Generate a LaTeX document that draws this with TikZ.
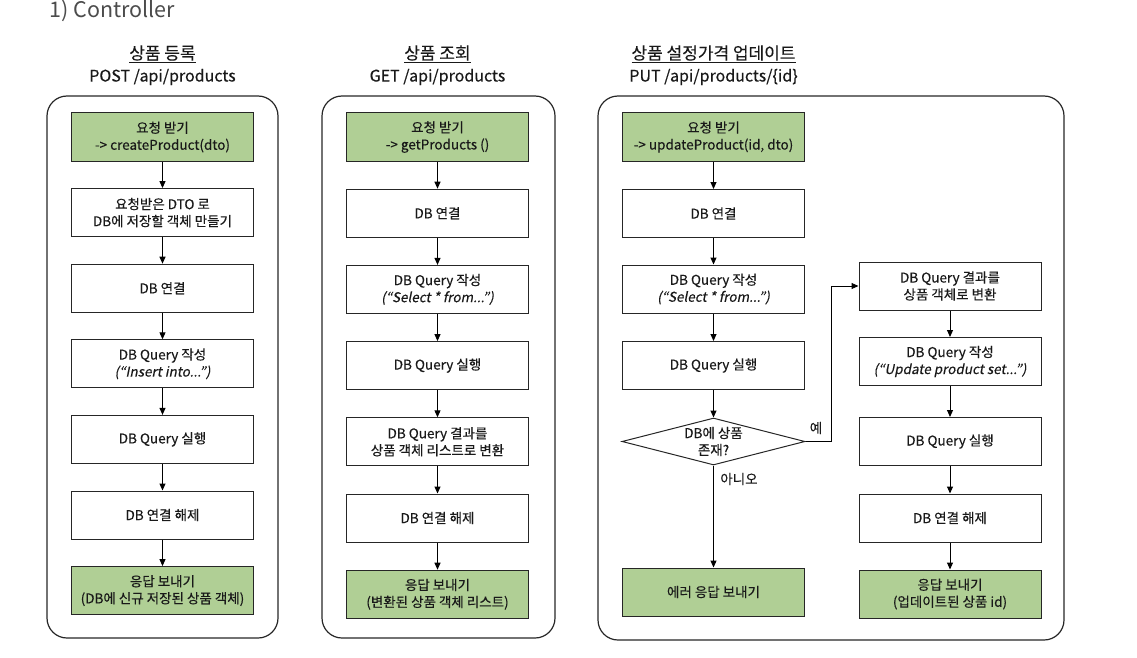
\documentclass[tikz,border=0pt]{standalone}
\usepackage{fontspec}
\newfontfamily\kr[FakeBold=0.3]{Noto Sans CJK KR}
\newfontfamily\krit[FakeSlant=0.2,FakeBold=0.3]{Noto Sans CJK KR}
\newfontfamily\krthin{Noto Sans CJK KR}
\usepackage{tikz}
\usetikzlibrary{arrows.meta,shapes.geometric}
\definecolor{ReqGreen}{HTML}{B0CF95}

\begin{document}
\begin{tikzpicture}[x=1pt,y=-1pt,line width=1pt,font=\kr\fontsize{13.5}{17}\selectfont,
 every node/.style={inner sep=1pt,text=black!90},>={Triangle[length=7pt,width=6pt]},
 stepbox/.style={draw=black!85,fill=white,minimum width=182pt,minimum height=48pt,align=center,inner sep=0pt},
 greenbox/.style={stepbox,fill=ReqGreen},
 frame/.style={draw=black!85,line width=1.2pt,rounded corners=20pt},
 ttl/.style={font=\kr\fontsize{17}{20}\selectfont},
 api/.style={font=\kr\fontsize{16}{19}\selectfont}]
\useasboundingbox (0,0) rectangle (1137,658);
\node[anchor=base west,inner sep=0pt,text=black!70,font=\krthin\fontsize{21.5}{24}\selectfont] (head) at (49,18) {1) Controller};

% 상품 등록
\draw[frame] (47,96) rectangle (278,638);
\begin{scope}[shift={(162.5,0)}]
 \node[ttl] (regT) at (0,54) {\underline{상품 등록}};
 \node[api] (regA) at (0,77) {POST /api/products};
 \node[greenbox] (reg1) at (0,137) {요청 받기\\-> createProduct(dto)};
 \node[stepbox] (reg2) at (0,212.6) {요청받은 DTO 로\\DB에 저장할 객체 만들기};
 \node[stepbox] (reg3) at (0,288.2) {DB 연결};
 \node[stepbox] (reg4) at (0,363.8) {DB Query 작성\\{\krit(“Insert into...”)}};
 \node[stepbox] (reg5) at (0,439.4) {DB Query 실행};
 \node[stepbox] (reg6) at (0,515) {DB 연결 해제};
 \node[greenbox] (reg7) at (0,590.6) {응답 보내기\\(DB에 신규 저장된 상품 객체)};
\end{scope}
\foreach \a/\b in {1/2,2/3,3/4,4/5,5/6,6/7}{\draw[->] (reg\a) -- (reg\b);}

% 상품 조회
\draw[frame] (322,96) rectangle (555,638);
\begin{scope}[shift={(437.5,0)}]
 \node[ttl] (lstT) at (0,54) {\underline{상품 조회}};
 \node[api] (lstA) at (0,77) {GET /api/products};
 \node[greenbox] (lst1) at (0,137) {요청 받기\\-> getProducts ()};
 \node[stepbox] (lst2) at (0,213.2) {DB 연결};
 \node[stepbox] (lst3) at (0,289.4) {DB Query 작성\\{\krit(“Select * from...”)}};
 \node[stepbox] (lst4) at (0,365.6) {DB Query 실행};
 \node[stepbox] (lst5) at (0,441.8) {DB Query 결과를\\상품 객체 리스트로 변환};
 \node[stepbox] (lst6) at (0,518) {DB 연결 해제};
 \node[greenbox] (lst7) at (0,594.2) {응답 보내기\\(변환된 상품 객체 리스트)};
\end{scope}
\foreach \a/\b in {1/2,2/3,3/4,4/5,5/6,6/7}{\draw[->] (lst\a) -- (lst\b);}

% 상품 설정가격 업데이트
\draw[frame] (598,96) rectangle (1064,640);
\begin{scope}[shift={(713.5,0)}]
 \node[ttl] (updT) at (0,54) {\underline{상품 설정가격 업데이트}};
 \node[api] (updA) at (0,77) {PUT /api/products/\{id\}};
 \node[greenbox] (upd1) at (0,137) {요청 받기\\-> updateProduct(id, dto)};
 \node[stepbox] (upd2) at (0,213.5) {DB 연결};
 \node[stepbox] (upd3) at (0,289) {DB Query 작성\\{\krit(“Select * from...”)}};
 \node[stepbox] (upd4) at (0,365.5) {DB Query 실행};
 \node[diamond,draw=black!85,fill=white,aspect=3.9,minimum width=183pt,minimum height=47pt,
   inner sep=0pt,align=center] (chk) at (0,441.5) {DB에 상품\\존재?};
 \node[greenbox] (err) at (0,592) {에러 응답 보내기};
\end{scope}
\begin{scope}[shift={(950,0)}]
 \node[stepbox] (fix1) at (0,286) {DB Query 결과를\\상품 객체로 변환};
 \node[stepbox] (fix2) at (0,361.5) {DB Query 작성\\{\krit(“Update product set...”)}};
 \node[stepbox] (fix3) at (0,441.5) {DB Query 실행};
 \node[stepbox] (fix4) at (0,518) {DB 연결 해제};
 \node[greenbox] (fix5) at (0,594) {응답 보내기\\(업데이트된 상품 id)};
\end{scope}
\foreach \a/\b in {1/2,2/3,3/4}{\draw[->] (upd\a) -- (upd\b);}
\draw[->] (upd4) -- (chk);
\draw[->] (chk) -- (err);
\draw[->] (chk.east) -- ++(26,0) |- (fix1.west);
\foreach \a/\b in {1/2,2/3,3/4,4/5}{\draw[->] (fix\a) -- (fix\b);}
\node (yes) at (816,428) {예};
\node (no) at (739,479) {아니오};
\end{tikzpicture}
\end{document}
